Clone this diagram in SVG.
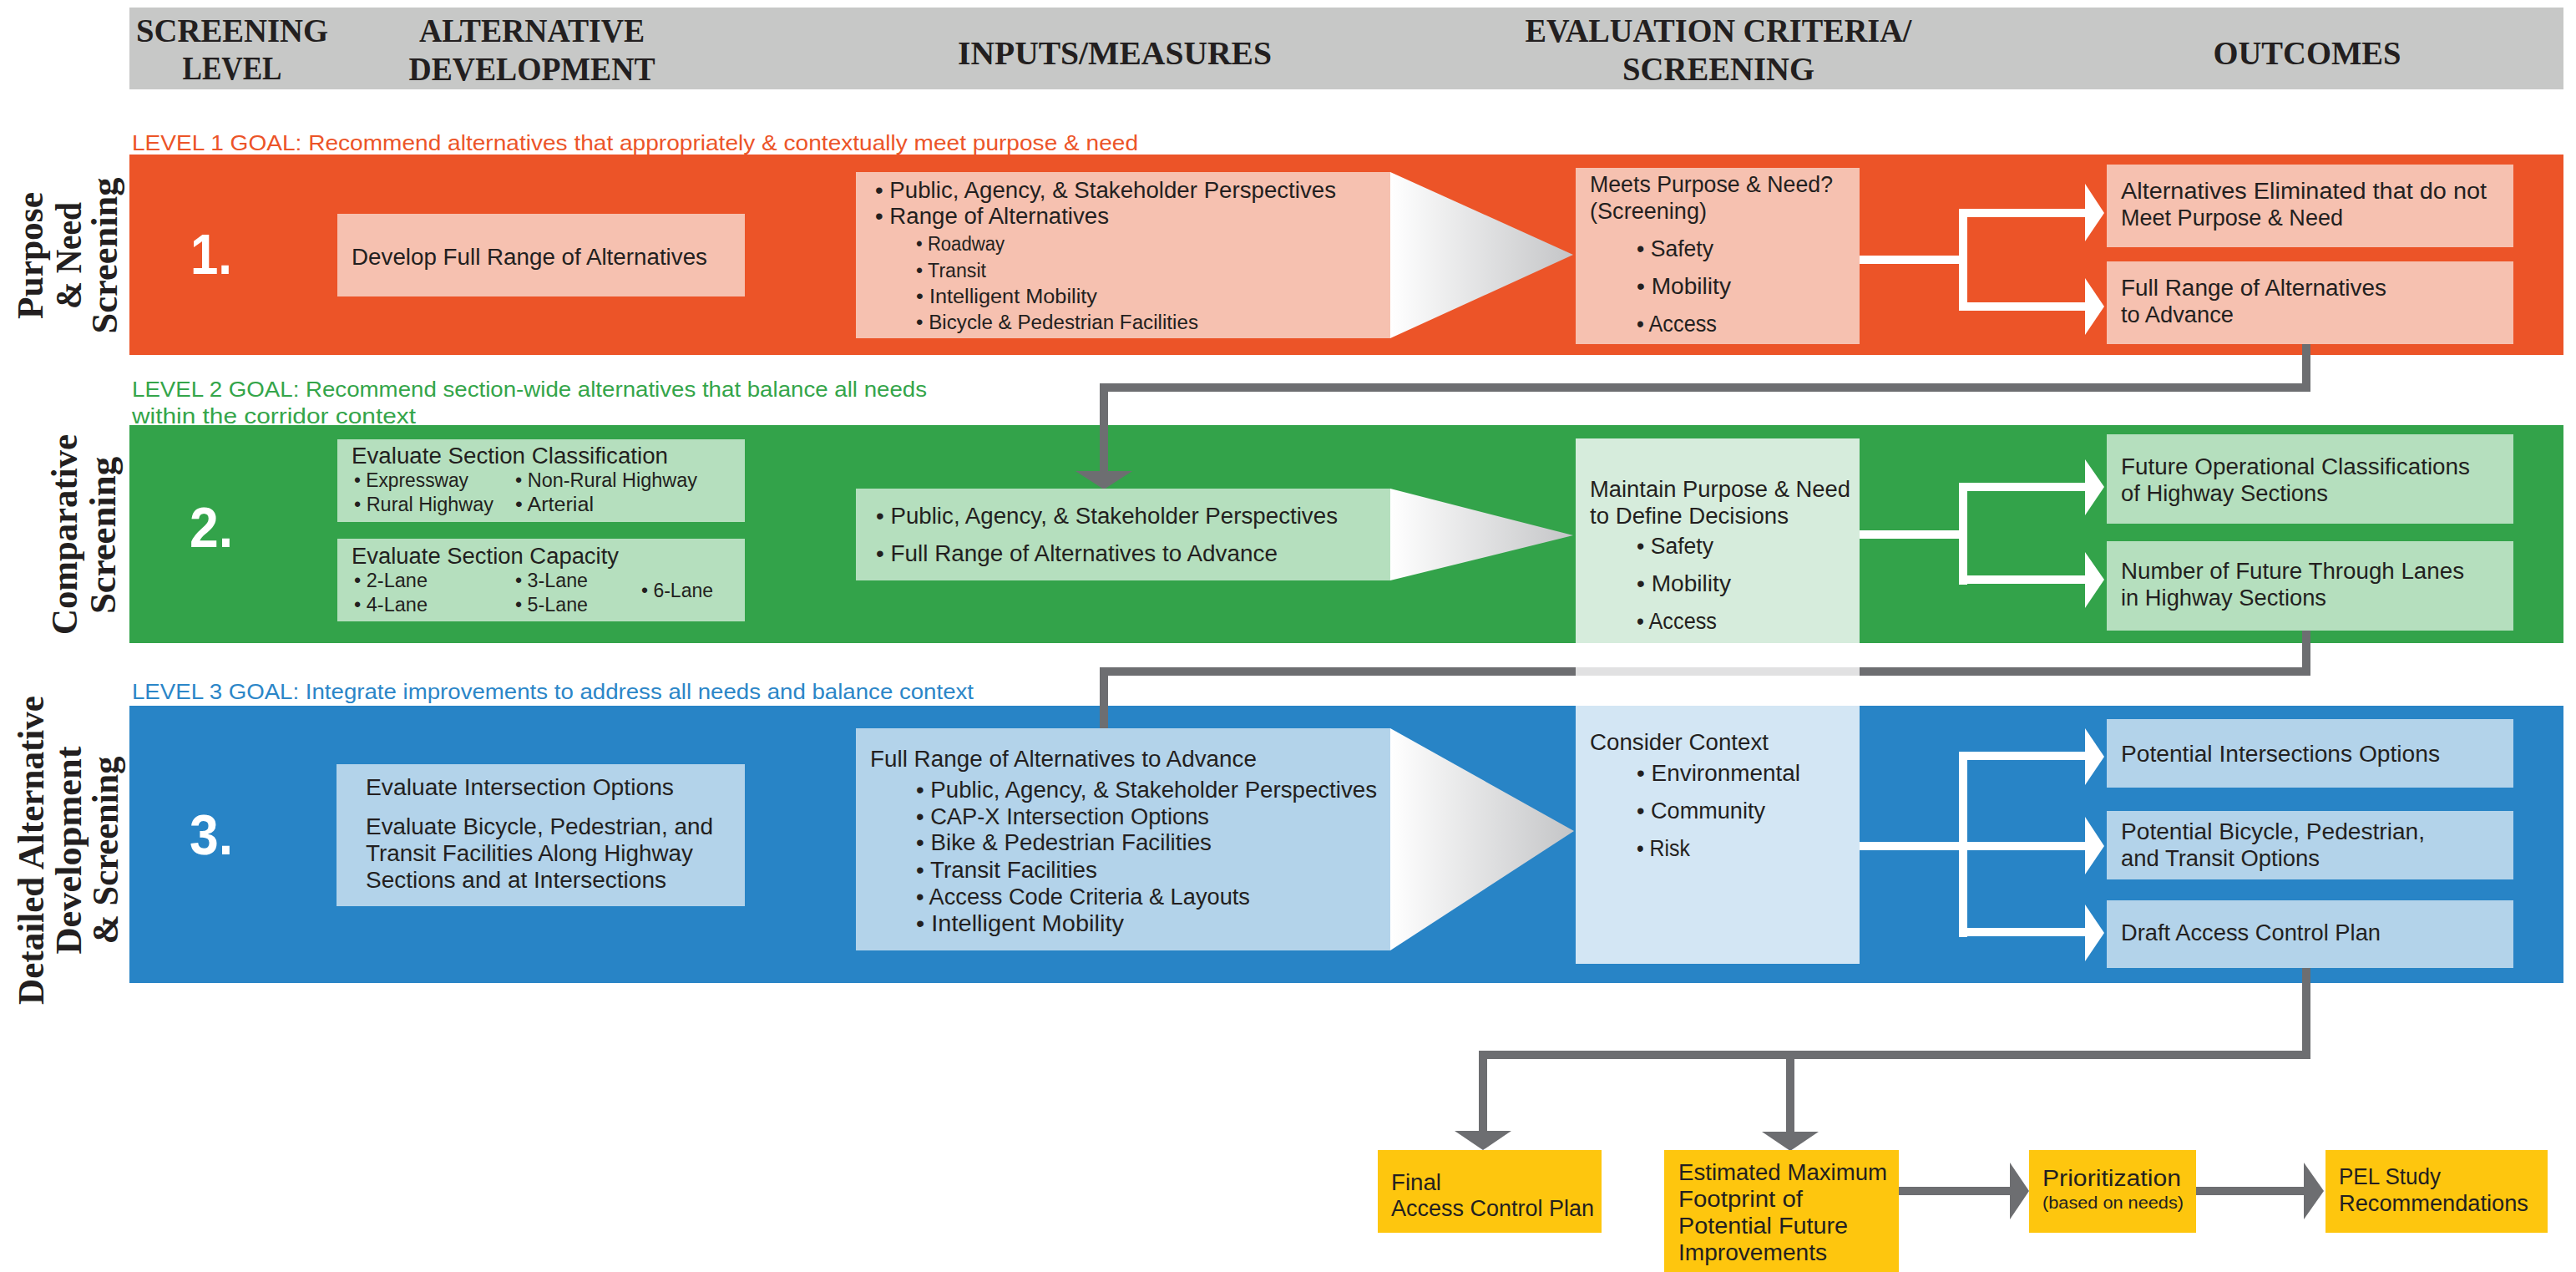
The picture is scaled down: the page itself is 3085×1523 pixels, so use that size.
<svg xmlns="http://www.w3.org/2000/svg" width="3085" height="1523" viewBox="0 0 3085 1523">
<style>
.t{font-family:"Liberation Sans",Arial,sans-serif;font-size:27px;fill:#231f20}
.s{font-size:23px}
.hd{font-family:"Liberation Serif","Times New Roman",serif;font-weight:bold;font-size:39px;fill:#231f20;text-anchor:middle}
.side{font-family:"Liberation Serif","Times New Roman",serif;font-weight:bold;font-size:44px;fill:#231f20;text-anchor:middle}
.num{font-family:"Liberation Sans",Arial,sans-serif;font-weight:bold;font-size:68px;fill:#ffffff;text-anchor:middle}
.goal{font-family:"Liberation Sans",Arial,sans-serif;font-size:25px}
.sal{fill:#f6c1b0}.lg{fill:#b5dfbe}.lb{fill:#b3d3ea}.yl{fill:#fec60e}
.wl{fill:none;stroke:#ffffff;stroke-width:10}
.gl{fill:none;stroke:#6d6e71;stroke-width:10}
.wa{fill:#ffffff}.ga{fill:#6d6e71}
</style>
<defs>
<linearGradient id="tri" x1="0" y1="0" x2="1" y2="0">
<stop offset="0" stop-color="#ffffff"/>
<stop offset="1" stop-color="#c4c5c7"/>
</linearGradient>
</defs>
<rect width="3085" height="1523" fill="#ffffff"/>

<g id="header">
<rect x="155" y="9" width="2915" height="98" fill="#c7c8c7"/>
<text class="hd" x="278" y="50" textLength="230" lengthAdjust="spacingAndGlyphs">SCREENING</text>
<text class="hd" x="278" y="95" textLength="119" lengthAdjust="spacingAndGlyphs">LEVEL</text>
<text class="hd" x="637" y="50" textLength="270" lengthAdjust="spacingAndGlyphs">ALTERNATIVE</text>
<text class="hd" x="637" y="96" textLength="295" lengthAdjust="spacingAndGlyphs">DEVELOPMENT</text>
<text class="hd" x="1335" y="77" textLength="376" lengthAdjust="spacingAndGlyphs">INPUTS/MEASURES</text>
<text class="hd" x="2058" y="50" textLength="463" lengthAdjust="spacingAndGlyphs">EVALUATION CRITERIA/</text>
<text class="hd" x="2058" y="96" textLength="230" lengthAdjust="spacingAndGlyphs">SCREENING</text>
<text class="hd" x="2763" y="77" textLength="225" lengthAdjust="spacingAndGlyphs">OUTCOMES</text>
</g>

<g id="bands">
<rect x="155" y="185" width="2915" height="240" fill="#ec5428"/>
<rect x="155" y="509" width="2915" height="261" fill="#33a34a"/>
<rect x="155" y="845" width="2915" height="332" fill="#2884c6"/>
</g>

<g id="goals">
<text class="goal" x="158" y="180" fill="#ec5428" textLength="1205" lengthAdjust="spacingAndGlyphs">LEVEL 1 GOAL: Recommend alternatives that appropriately &amp; contextually meet purpose &amp; need</text>
<text class="goal" x="158" y="475" fill="#34a54a" textLength="952" lengthAdjust="spacingAndGlyphs">LEVEL 2 GOAL: Recommend section-wide alternatives that balance all needs</text>
<text class="goal" x="158" y="507" fill="#34a54a" textLength="340" lengthAdjust="spacingAndGlyphs">within the corridor context</text>
<text class="goal" x="158" y="837" fill="#2b86c8" textLength="1008" lengthAdjust="spacingAndGlyphs">LEVEL 3 GOAL: Integrate improvements to address all needs and balance context</text>
</g>

<g id="side-labels">
<text class="side" transform="translate(51,306) rotate(-90)" textLength="152" lengthAdjust="spacingAndGlyphs">Purpose</text>
<text class="side" transform="translate(97,306) rotate(-90)" textLength="128" lengthAdjust="spacingAndGlyphs">&amp; Need</text>
<text class="side" transform="translate(140,306) rotate(-90)" textLength="187" lengthAdjust="spacingAndGlyphs">Screening</text>
<text class="side" transform="translate(92,640) rotate(-90)" textLength="240" lengthAdjust="spacingAndGlyphs">Comparative</text>
<text class="side" transform="translate(138,641) rotate(-90)" textLength="188" lengthAdjust="spacingAndGlyphs">Screening</text>
<text class="side" transform="translate(52,1018) rotate(-90)" textLength="370" lengthAdjust="spacingAndGlyphs">Detailed Alternative</text>
<text class="side" transform="translate(97,1018) rotate(-90)" textLength="249" lengthAdjust="spacingAndGlyphs">Development</text>
<text class="side" transform="translate(141,1018) rotate(-90)" textLength="225" lengthAdjust="spacingAndGlyphs">&amp; Screening</text>
</g>

<g id="numbers">
<text class="num" x="253" y="328" textLength="50" lengthAdjust="spacingAndGlyphs">1.</text>
<text class="num" x="253" y="655" textLength="52" lengthAdjust="spacingAndGlyphs">2.</text>
<text class="num" x="253" y="1023" textLength="52" lengthAdjust="spacingAndGlyphs">3.</text>
</g>

<g id="connectors">
<path class="wl" d="M2227 311 H2351 M2351 250 V372 M2346 255 H2500 M2346 367 H2500"/>
<polygon class="wa" points="2497,220 2520,255 2497,289"/>
<polygon class="wa" points="2497,333 2520,367 2497,401"/>
<path class="gl" d="M2762 412 V464 H1322 V566"/>
<polygon class="ga" points="1288,564 1356,564 1322,586"/>
<path class="wl" d="M2227 640 H2351 M2351 578 V700 M2346 583 H2500 M2346 694 H2500"/>
<polygon class="wa" points="2497,550 2520,583 2497,617"/>
<polygon class="wa" points="2497,661 2520,694 2497,728"/>
<path class="gl" d="M2762 755 V804 H1322 V872"/>
<path d="M1887 804 H2227" fill="none" stroke="#e1e1e2" stroke-width="10"/>
<path class="wl" d="M2227 1013 H2500 M2351 900 V1122 M2346 905 H2500 M2346 1116 H2500"/>
<polygon class="wa" points="2497,872 2520,906 2497,940"/>
<polygon class="wa" points="2497,978 2520,1013 2497,1047"/>
<polygon class="wa" points="2497,1083 2520,1117 2497,1151"/>
<path class="gl" d="M2762 1159 V1263 H1776 V1355 M2144 1263 V1357"/>
<polygon class="ga" points="1742,1354 1810,1354 1776,1377"/>
<polygon class="ga" points="2110,1355 2178,1355 2144,1378"/>
<path class="gl" d="M2274 1426 H2409 M2630 1426 H2761"/>
<polygon class="ga" points="2407,1392 2430,1426 2407,1460"/>
<polygon class="ga" points="2759,1392 2783,1426 2759,1460"/>
</g>

<g id="alt1"><rect class="sal" x="404" y="256" width="488" height="99"/>
<text class="t" x="421" y="317" textLength="426" lengthAdjust="spacingAndGlyphs">Develop Full Range of Alternatives</text></g>

<g id="inputs1"><rect class="sal" x="1025" y="206" width="640" height="199"/>
<text class="t" x="1048" y="237" textLength="552" lengthAdjust="spacingAndGlyphs">• Public, Agency, &amp; Stakeholder Perspectives</text>
<text class="t" x="1048" y="268" textLength="280" lengthAdjust="spacingAndGlyphs">• Range of Alternatives</text>
<text class="t s" x="1097" y="300" textLength="106" lengthAdjust="spacingAndGlyphs">• Roadway</text>
<text class="t s" x="1097" y="332" textLength="84" lengthAdjust="spacingAndGlyphs">• Transit</text>
<text class="t s" x="1097" y="363" textLength="217" lengthAdjust="spacingAndGlyphs">• Intelligent Mobility</text>
<text class="t s" x="1097" y="394" textLength="338" lengthAdjust="spacingAndGlyphs">• Bicycle &amp; Pedestrian Facilities</text></g>
<polygon id="tri1" points="1665,206 1884,305 1665,405" fill="url(#tri)"/>

<g id="eval1"><rect class="sal" x="1887" y="201" width="340" height="211"/>
<text class="t" x="1904" y="230" textLength="291" lengthAdjust="spacingAndGlyphs">Meets Purpose &amp; Need?</text>
<text class="t" x="1904" y="262" textLength="140" lengthAdjust="spacingAndGlyphs">(Screening)</text>
<text class="t" x="1960" y="307" textLength="92" lengthAdjust="spacingAndGlyphs">• Safety</text>
<text class="t" x="1960" y="352" textLength="113" lengthAdjust="spacingAndGlyphs">• Mobility</text>
<text class="t" x="1960" y="397" textLength="96" lengthAdjust="spacingAndGlyphs">• Access</text></g>

<g id="out1a"><rect class="sal" x="2523" y="197" width="487" height="99"/>
<text class="t" x="2540" y="238" textLength="438" lengthAdjust="spacingAndGlyphs">Alternatives Eliminated that do not</text>
<text class="t" x="2540" y="270" textLength="266" lengthAdjust="spacingAndGlyphs">Meet Purpose &amp; Need</text></g>
<g id="out1b"><rect class="sal" x="2523" y="313" width="487" height="99"/>
<text class="t" x="2540" y="354" textLength="318" lengthAdjust="spacingAndGlyphs">Full Range of Alternatives</text>
<text class="t" x="2540" y="386" textLength="135" lengthAdjust="spacingAndGlyphs">to Advance</text></g>

<g id="alt2a"><rect class="lg" x="404" y="526" width="488" height="99"/>
<text class="t" x="421" y="555" textLength="379" lengthAdjust="spacingAndGlyphs">Evaluate Section Classification</text>
<text class="t s" x="424" y="583" textLength="137" lengthAdjust="spacingAndGlyphs">• Expressway</text>
<text class="t s" x="617" y="583" textLength="218" lengthAdjust="spacingAndGlyphs">• Non-Rural Highway</text>
<text class="t s" x="424" y="612" textLength="167" lengthAdjust="spacingAndGlyphs">• Rural Highway</text>
<text class="t s" x="617" y="612" textLength="94" lengthAdjust="spacingAndGlyphs">• Arterial</text></g>
<g id="alt2b"><rect class="lg" x="404" y="645" width="488" height="99"/>
<text class="t" x="421" y="675" textLength="320" lengthAdjust="spacingAndGlyphs">Evaluate Section Capacity</text>
<text class="t s" x="424" y="703" textLength="88" lengthAdjust="spacingAndGlyphs">• 2-Lane</text>
<text class="t s" x="617" y="703" textLength="87" lengthAdjust="spacingAndGlyphs">• 3-Lane</text>
<text class="t s" x="424" y="732" textLength="88" lengthAdjust="spacingAndGlyphs">• 4-Lane</text>
<text class="t s" x="617" y="732" textLength="87" lengthAdjust="spacingAndGlyphs">• 5-Lane</text>
<text class="t s" x="768" y="715" textLength="86" lengthAdjust="spacingAndGlyphs">• 6-Lane</text></g>

<g id="inputs2"><rect class="lg" x="1025" y="585" width="640" height="110"/>
<text class="t" x="1049" y="627" textLength="553" lengthAdjust="spacingAndGlyphs">• Public, Agency, &amp; Stakeholder Perspectives</text>
<text class="t" x="1049" y="672" textLength="481" lengthAdjust="spacingAndGlyphs">• Full Range of Alternatives to Advance</text></g>
<polygon id="tri2" points="1665,585 1884,641 1665,695" fill="url(#tri)"/>

<g id="eval2"><rect x="1887" y="525" width="340" height="245" fill="#d6ecdc"/>
<text class="t" x="1904" y="595" textLength="312" lengthAdjust="spacingAndGlyphs">Maintain Purpose &amp; Need</text>
<text class="t" x="1904" y="627" textLength="238" lengthAdjust="spacingAndGlyphs">to Define Decisions</text>
<text class="t" x="1960" y="663" textLength="92" lengthAdjust="spacingAndGlyphs">• Safety</text>
<text class="t" x="1960" y="708" textLength="113" lengthAdjust="spacingAndGlyphs">• Mobility</text>
<text class="t" x="1960" y="753" textLength="96" lengthAdjust="spacingAndGlyphs">• Access</text></g>

<g id="out2a"><rect class="lg" x="2523" y="520" width="487" height="107"/>
<text class="t" x="2540" y="568" textLength="418" lengthAdjust="spacingAndGlyphs">Future Operational Classifications</text>
<text class="t" x="2540" y="600" textLength="248" lengthAdjust="spacingAndGlyphs">of Highway Sections</text></g>
<g id="out2b"><rect class="lg" x="2523" y="648" width="487" height="107"/>
<text class="t" x="2540" y="693" textLength="411" lengthAdjust="spacingAndGlyphs">Number of Future Through Lanes</text>
<text class="t" x="2540" y="725" textLength="246" lengthAdjust="spacingAndGlyphs">in Highway Sections</text></g>

<g id="alt3"><rect class="lb" x="403" y="915" width="489" height="170"/>
<text class="t" x="438" y="952" textLength="369" lengthAdjust="spacingAndGlyphs">Evaluate Intersection Options</text>
<text class="t" x="438" y="999" textLength="416" lengthAdjust="spacingAndGlyphs">Evaluate Bicycle, Pedestrian, and</text>
<text class="t" x="438" y="1031" textLength="392" lengthAdjust="spacingAndGlyphs">Transit Facilities Along Highway</text>
<text class="t" x="438" y="1063" textLength="360" lengthAdjust="spacingAndGlyphs">Sections and at Intersections</text></g>

<g id="inputs3"><rect class="lb" x="1025" y="872" width="640" height="266"/>
<text class="t" x="1042" y="918" textLength="463" lengthAdjust="spacingAndGlyphs">Full Range of Alternatives to Advance</text>
<text class="t" x="1097" y="955" textLength="552" lengthAdjust="spacingAndGlyphs">• Public, Agency, &amp; Stakeholder Perspectives</text>
<text class="t" x="1097" y="987" textLength="351" lengthAdjust="spacingAndGlyphs">• CAP-X Intersection Options</text>
<text class="t" x="1097" y="1018" textLength="354" lengthAdjust="spacingAndGlyphs">• Bike &amp; Pedestrian Facilities</text>
<text class="t" x="1097" y="1051" textLength="217" lengthAdjust="spacingAndGlyphs">• Transit Facilities</text>
<text class="t" x="1097" y="1083" textLength="400" lengthAdjust="spacingAndGlyphs">• Access Code Criteria &amp; Layouts</text>
<text class="t" x="1097" y="1115" textLength="249" lengthAdjust="spacingAndGlyphs">• Intelligent Mobility</text></g>
<polygon id="tri3" points="1665,872 1885,995 1665,1138" fill="url(#tri)"/>

<g id="eval3"><rect x="1887" y="845" width="340" height="309" fill="#d3e6f4"/>
<text class="t" x="1904" y="898" textLength="214" lengthAdjust="spacingAndGlyphs">Consider Context</text>
<text class="t" x="1960" y="935" textLength="196" lengthAdjust="spacingAndGlyphs">• Environmental</text>
<text class="t" x="1960" y="980" textLength="154" lengthAdjust="spacingAndGlyphs">• Community</text>
<text class="t" x="1960" y="1025" textLength="64" lengthAdjust="spacingAndGlyphs">• Risk</text></g>

<g id="out3a"><rect class="lb" x="2523" y="861" width="487" height="82"/>
<text class="t" x="2540" y="912" textLength="382" lengthAdjust="spacingAndGlyphs">Potential Intersections Options</text></g>
<g id="out3b"><rect class="lb" x="2523" y="971" width="487" height="82"/>
<text class="t" x="2540" y="1005" textLength="364" lengthAdjust="spacingAndGlyphs">Potential Bicycle, Pedestrian,</text>
<text class="t" x="2540" y="1037" textLength="238" lengthAdjust="spacingAndGlyphs">and Transit Options</text></g>
<g id="out3c"><rect class="lb" x="2523" y="1078" width="487" height="81"/>
<text class="t" x="2540" y="1126" textLength="311" lengthAdjust="spacingAndGlyphs">Draft Access Control Plan</text></g>

<g id="final"><rect class="yl" x="1650" y="1377" width="268" height="99"/>
<text class="t" x="1666" y="1425" textLength="60" lengthAdjust="spacingAndGlyphs">Final</text>
<text class="t" x="1666" y="1456" textLength="243" lengthAdjust="spacingAndGlyphs">Access Control Plan</text></g>
<g id="footprint"><rect class="yl" x="1993" y="1377" width="281" height="146"/>
<text class="t" x="2010" y="1413" textLength="250" lengthAdjust="spacingAndGlyphs">Estimated Maximum</text>
<text class="t" x="2010" y="1445" textLength="149" lengthAdjust="spacingAndGlyphs">Footprint of</text>
<text class="t" x="2010" y="1477" textLength="203" lengthAdjust="spacingAndGlyphs">Potential Future</text>
<text class="t" x="2010" y="1509" textLength="178" lengthAdjust="spacingAndGlyphs">Improvements</text></g>
<g id="prioritization"><rect class="yl" x="2430" y="1377" width="200" height="99"/>
<text class="t" x="2446" y="1420" textLength="166" lengthAdjust="spacingAndGlyphs">Prioritization</text>
<text class="t" x="2446" y="1447" style="font-size:20px" textLength="169" lengthAdjust="spacingAndGlyphs">(based on needs)</text></g>
<g id="pel"><rect class="yl" x="2785" y="1377" width="266" height="99"/>
<text class="t" x="2801" y="1418" textLength="122" lengthAdjust="spacingAndGlyphs">PEL Study</text>
<text class="t" x="2801" y="1450" textLength="227" lengthAdjust="spacingAndGlyphs">Recommendations</text></g>
</svg>
